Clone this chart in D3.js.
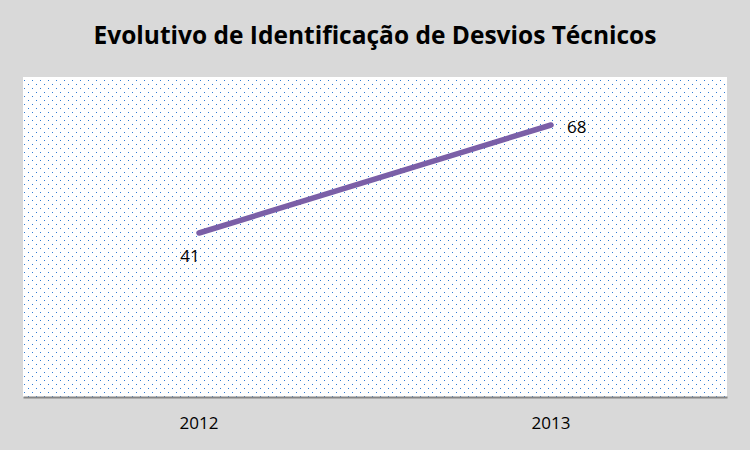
<!DOCTYPE html>
<html><head><meta charset="utf-8">
<script src="https://cdn.jsdelivr.net/npm/d3@7"></script>
<style>html,body{margin:0;padding:0;background:#d9d9d9;}svg{display:block;}</style>
</head><body>
<script>
const categories = ["2012", "2013"];
const values = [41, 68];
const title = "Evolutivo de Identificação de Desvios Técnicos";

const W = 750, H = 450;
const m = {left: 23, right: 23, top: 77, bottom: 53};
const svg = d3.select("body").append("svg").attr("width", W).attr("height", H);
svg.append("rect").attr("width", W).attr("height", H).attr("fill", "#d9d9d9");

const defs = svg.append("defs");
const pat = defs.append("pattern").attr("id", "dots").attr("patternUnits", "userSpaceOnUse")
  .attr("width", 8).attr("height", 8).attr("x", m.left).attr("y", m.top);
pat.append("rect").attr("width", 8).attr("height", 8).attr("fill", "#fff");
pat.append("rect").attr("x", 1).attr("y", 3).attr("width", 1).attr("height", 1).attr("fill", "#2f7bd4");
pat.append("rect").attr("x", 5).attr("y", 7).attr("width", 1).attr("height", 1).attr("fill", "#2f7bd4");

const x = d3.scaleBand().domain(categories).range([m.left, W - m.right]);
const y = d3.scaleLinear().domain([0, 80]).range([H - m.bottom, m.top]);

svg.append("rect").attr("x", m.left).attr("y", m.top)
  .attr("width", W - m.left - m.right).attr("height", H - m.top - m.bottom)
  .attr("fill", "url(#dots)");

const xAxis = svg.append("g").attr("transform", `translate(0,${H - m.bottom})`)
  .call(d3.axisBottom(x).tickSize(0).tickPadding(20));
xAxis.select(".domain").attr("stroke", "#868686").attr("stroke-width", 2);
xAxis.selectAll("text").attr("font-family", "Open Sans, sans-serif").attr("font-size", 17).attr("fill", "#000");

const data = categories.map((c, i) => ({c, v: values[i]}));
const line = d3.line().x(d => x(d.c) + x.bandwidth() / 2).y(d => y(d.v));
svg.append("path").datum(data).attr("d", line).attr("fill", "none")
  .attr("stroke", "#7b5fa7").attr("stroke-width", 5.5).attr("stroke-linecap", "round");

svg.append("text").attr("x", x(categories[0]) + x.bandwidth() / 2 - 9).attr("y", y(values[0]) + 29)
  .attr("text-anchor", "middle").attr("font-family", "Open Sans, sans-serif").attr("font-size", 17)
  .text(values[0]);
svg.append("text").attr("x", x(categories[1]) + x.bandwidth() / 2 + 16).attr("y", y(values[1]) + 8)
  .attr("text-anchor", "start").attr("font-family", "Open Sans, sans-serif").attr("font-size", 17)
  .text(values[1]);

svg.append("text").attr("x", W / 2).attr("y", 44).attr("text-anchor", "middle")
  .attr("font-family", "Open Sans, sans-serif").attr("font-weight", "bold").attr("font-size", 24.5)
  .text(title);
</script>
</body></html>
